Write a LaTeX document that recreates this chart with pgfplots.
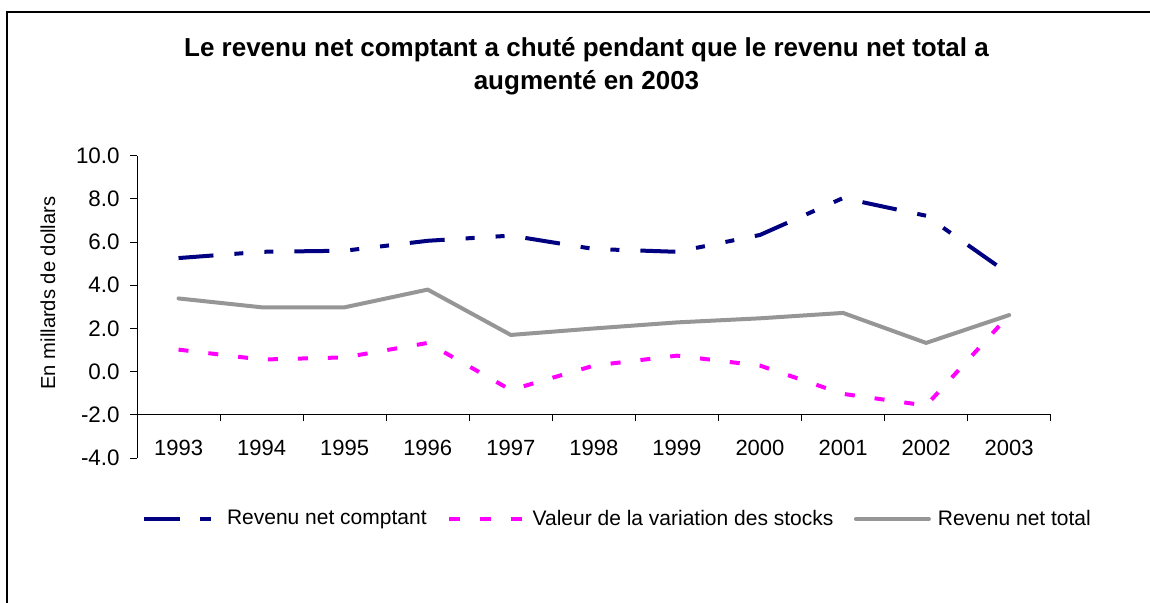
\documentclass[border=0pt]{standalone}
\usepackage{pgfplots}
\pgfplotsset{compat=1.18}
\usepackage{fontspec}
\setmainfont{Liberation Sans}
\definecolor{navyc}{RGB}{0,0,128}
\definecolor{magc}{RGB}{255,0,255}
\definecolor{grayc}{RGB}{150,150,150}
\begin{document}
\begin{tikzpicture}
\useasboundingbox (0pt,0pt) rectangle (575pt,-301pt);
% frame
\draw[line width=1pt] (3.5pt,-310pt) -- (3.5pt,-6pt) -- (580pt,-6pt);
% title
\node[font=\fontsize{13pt}{16.5pt}\selectfont\bfseries, align=center] at (293.25pt,-33pt)
  {Le revenu net comptant a chuté pendant que le revenu net total a\\augmenté en 2003};
% y label
\node[font=\fontsize{10.1pt}{12pt}\selectfont, rotate=90] at (24pt,-146.5pt) {En millards de dollars};
% x-axis line at -2 with ticks
\begin{axis}[
  at={(68.5pt,-207.15pt)}, anchor=south west, scale only axis,
  width=456.85pt, height=129.3pt,
  xmin=0, xmax=11, ymin=-2, ymax=10,
  axis x line=bottom, axis y line=none, axis line style={-, line width=0.5pt},
  xtick={0.5,1.5,...,10.5},
  xticklabels={1993,1994,1995,1996,1997,1998,1999,2000,2001,2002,2003},
  xticklabel style={anchor=center, yshift=-16.85pt, font=\fontsize{11pt}{13pt}\selectfont, inner sep=0pt},
  major tick length=0pt,
  extra x ticks={0,1,...,11},
  extra x tick labels={,,,,,,,,,,,},
  extra x tick style={major tick length=3.5pt, tick align=outside, tick style={black, line width=0.5pt}},
]
\end{axis}
% main axis
\begin{axis}[
  at={(68.5pt,-229pt)}, anchor=south west, scale only axis,
  width=456.85pt, height=151.15pt,
  xmin=0, xmax=11, ymin=-4, ymax=10,
  axis y line=left, axis x line=none, axis line style={-, line width=0.5pt},
  ytick={-4,-2,0,2,4,6,8,10},
  yticklabels={-4.0,-2.0,0.0,2.0,4.0,6.0,8.0,10.0},
  yticklabel style={font=\fontsize{11.2pt}{13pt}\selectfont, inner sep=0pt, xshift=-5pt},
  tick align=outside, major tick length=3.5pt, tick style={black, line width=0.5pt},
  xtick=\empty,
  legend columns=3,
  legend style={at={(axis description cs:0.0055,-0.2018)}, anchor=west, draw=none, fill=none,
    inner sep=0pt, nodes={inner sep=0pt, font=\fontsize{10.5pt}{12pt}\selectfont, anchor=west},
    /tikz/every even column/.append style={column sep=10.25pt}},
]
\addplot[navyc, line width=2pt, line cap=butt, dash pattern=on 17.5pt off 10.5pt on 4.5pt off 10.5pt on 4.5pt off 10.5pt,
  legend image code/.code={\draw[navyc, line width=2pt, dash pattern=on 18pt off 10pt on 5.5pt off 10pt] (0pt,0pt) -- (33.5pt,0pt); \path (40.3pt,0pt);}]
  coordinates {(0.5,5.26) (1.5,5.55) (2.5,5.6) (3.5,6.06) (4.5,6.3) (5.5,5.68) (6.5,5.55) (7.5,6.33) (8.5,8.04) (9.5,7.22) (10.5,4.52)};
\addlegendentry{Revenu net comptant}
\addplot[magc, line width=2pt, line cap=butt, dash pattern=on 5pt off 10pt,
  legend image code/.code={\draw[magc, line width=2pt, dash pattern=on 5.6pt off 9.8pt] (0pt,0pt) -- (36.4pt,0pt); \path (40.75pt,0pt);}]
  coordinates {(0.5,1.02) (1.5,0.56) (2.5,0.66) (3.5,1.33) (4.5,-0.85) (5.5,0.28) (6.5,0.74) (7.5,0.28) (8.5,-1.03) (9.5,-1.57) (10.5,2.62)};
\addlegendentry{Valeur de la variation des stocks}
\addplot[grayc, line width=2pt, line cap=round, line join=round,
  legend image code/.code={\draw[grayc, line width=2pt, line cap=round] (1pt,0pt) -- (37.5pt,0pt); \path (41pt,0pt);}]
  coordinates {(0.5,3.39) (1.5,2.98) (2.5,2.98) (3.5,3.8) (4.5,1.70) (5.5,2.0) (6.5,2.28) (7.5,2.47) (8.5,2.72) (9.5,1.33) (10.5,2.62)};
\addlegendentry{Revenu net total}
\end{axis}
\end{tikzpicture}
\end{document}
